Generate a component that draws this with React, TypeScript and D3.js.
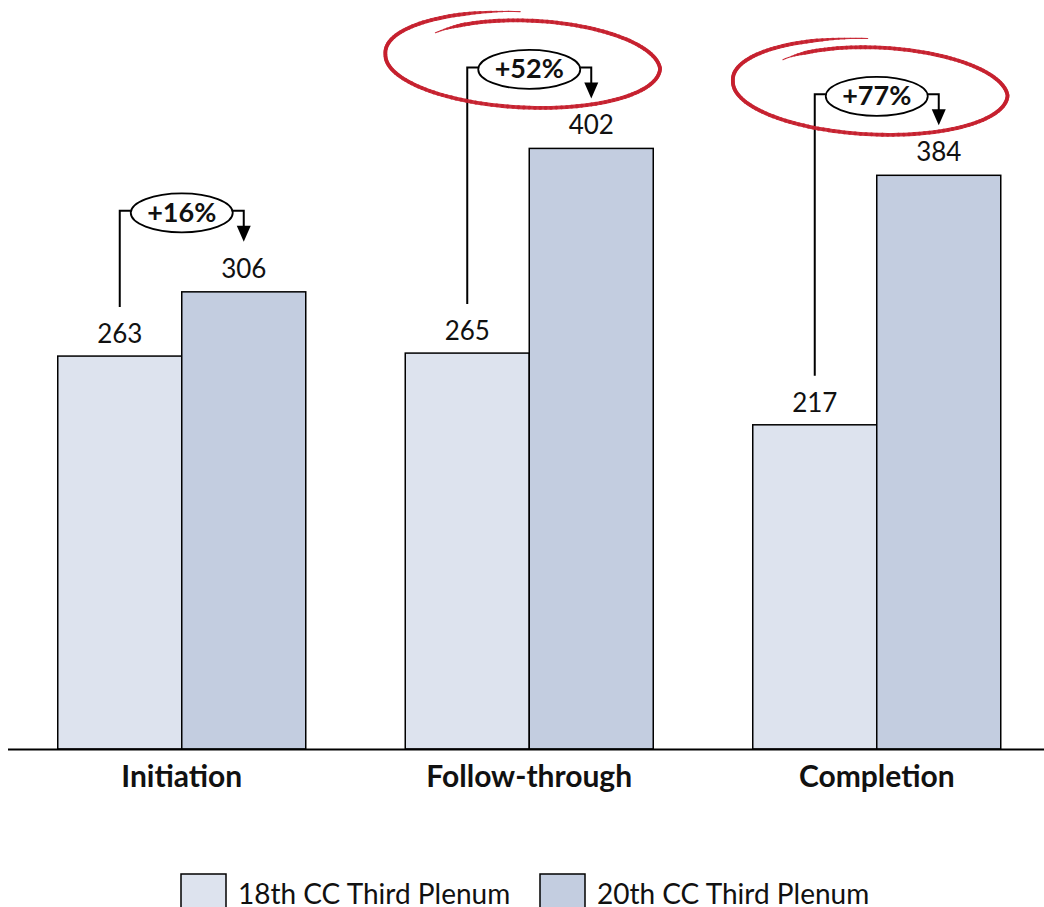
import React from "react";
import * as d3 from "d3";

// Counts per phase for the two plenums
const categories = ["Initiation", "Follow-through", "Completion"];
const plenum18 = [263, 265, 217];
const plenum20 = [306, 402, 384];
// Phases whose change is ringed in red
const circled = [false, true, true];
const seriesNames = ["18th CC Third Plenum", "20th CC Third Plenum"];

const W = 1044;
const H = 907;
const FONT = "Lato, 'Open Sans', sans-serif";
const LIGHT = "#dde3ee";
const DARK = "#c3cde0";
const RED = "#c6202e";

const x = d3.scaleBand<string>().domain(categories).range([8, 8 + 3 * 347.5]);
const y = d3.scaleLinear().domain([0, 500]).range([749, 2]);
const barW = 124;

// Hand-drawn looking ring: a slightly more than full turn with a growing radius and tapered ends
function ringSegments(cx: number, cy: number, rx: number, ry: number) {
  const a0 = (-141 * Math.PI) / 180;
  const a1 = (268 * Math.PI) / 180;
  const tilt = (3 * Math.PI) / 180;
  const n = 180;
  const pts: [number, number][] = [];
  for (let i = 0; i <= n; i++) {
    const a = a0 + ((a1 - a0) * i) / n;
    const deg = (a * 180) / Math.PI;
    let f = 1;
    if (deg < 0) f = 1 - 0.17 * (-deg / 141);
    else if (deg > 180) f = 1 + 0.08 * ((deg - 180) / 88);
    const px = f * rx * Math.cos(a);
    const py = f * ry * Math.sin(a);
    pts.push([
      cx + px * Math.cos(tilt) - py * Math.sin(tilt),
      cy + px * Math.sin(tilt) + py * Math.cos(tilt),
    ]);
  }
  const segs = [];
  for (let i = 0; i < n; i++) {
    const t = i / n;
    const w = 3.8 * Math.max(0.3, Math.min(1, t / 0.04, (1 - t) / 0.06));
    segs.push({ p: [pts[i], pts[i + 1]], w });
  }
  return segs;
}

export default function App() {
  const line = d3.line();
  return (
    <svg width={W} height={H} style={{ display: "block", position: "absolute", left: 0, top: 0 }}>
      <rect width={W} height={H} fill="#ffffff" />
      {categories.map((c, i) => {
        const x0 = x(c)! + x.bandwidth() / 2 - barW;
        const x1 = x0 + barW;
        const a = plenum18[i];
        const b = plenum20[i];
        const ta = y(a);
        const tb = y(b);
        const cLight = x0 + barW / 2;
        const cDark = x1 + barW / 2;
        const lineY = tb - 81;
        const ex = x1;
        const ey = lineY + 2;
        const pct = Math.round((b / a - 1) * 100);
        const tipY = lineY + 31;
        return (
          <g key={c}>
            <rect x={x0} y={ta} width={barW} height={y(0) - ta} fill={LIGHT} stroke="#000" strokeWidth={1.5} />
            <rect x={x1} y={tb} width={barW} height={y(0) - tb} fill={DARK} stroke="#000" strokeWidth={1.5} />
            <text x={cLight} y={ta - 13} textAnchor="middle" fontFamily={FONT} fontSize={26} fill="#111">
              {a}
            </text>
            <text x={cDark} y={tb - 14} textAnchor="middle" fontFamily={FONT} fontSize={26} fill="#111">
              {b}
            </text>
            <text x={x(c)! + x.bandwidth() / 2} y={787} textAnchor="middle" fontFamily={FONT} fontWeight="bold" fontSize={30} fill="#111">
              {c}
            </text>
            {/* change bracket */}
            <path
              d={line([[cLight, ta - 49], [cLight, lineY], [ex - 51, lineY]])!}
              fill="none"
              stroke="#000"
              strokeWidth={2}
            />
            <path
              d={line([[ex + 51, lineY], [cDark, lineY], [cDark, tipY - 14]])!}
              fill="none"
              stroke="#000"
              strokeWidth={2}
            />
            <path d={`M${cDark - 7},${tipY - 16}L${cDark + 7},${tipY - 16}L${cDark},${tipY}Z`} fill="#000" />
            <ellipse cx={ex} cy={ey} rx={51} ry={19.5} fill="#fff" stroke="#000" strokeWidth={1.8} />
            <text x={ex} y={ey + 9} textAnchor="middle" fontFamily={FONT} fontWeight="bold" fontSize={27} fill="#111">
              {`+${pct}%`}
            </text>
            {circled[i] &&
              ringSegments(ex - 6.5, ey - 8, 137.5, 46).map((s, k) => (
                <path
                  key={k}
                  d={line(s.p as [number, number][])!}
                  stroke={RED}
                  strokeWidth={s.w}
                  strokeLinecap="round"
                  fill="none"
                  opacity={0.92}
                />
              ))}
          </g>
        );
      })}
      <line x1={8} x2={W} y1={749.5} y2={749.5} stroke="#000" strokeWidth={2} />
      {/* legend */}
      {seriesNames.map((s, i) => {
        const bx = i === 0 ? 181 : 540;
        return (
          <g key={s}>
            <rect x={bx} y={874} width={45} height={45} fill={i === 0 ? LIGHT : DARK} stroke="#000" strokeWidth={1.5} />
            <text x={bx + 57} y={904} fontFamily={FONT} fontSize={28} fill="#111">
              {s}
            </text>
          </g>
        );
      })}
    </svg>
  );
}
